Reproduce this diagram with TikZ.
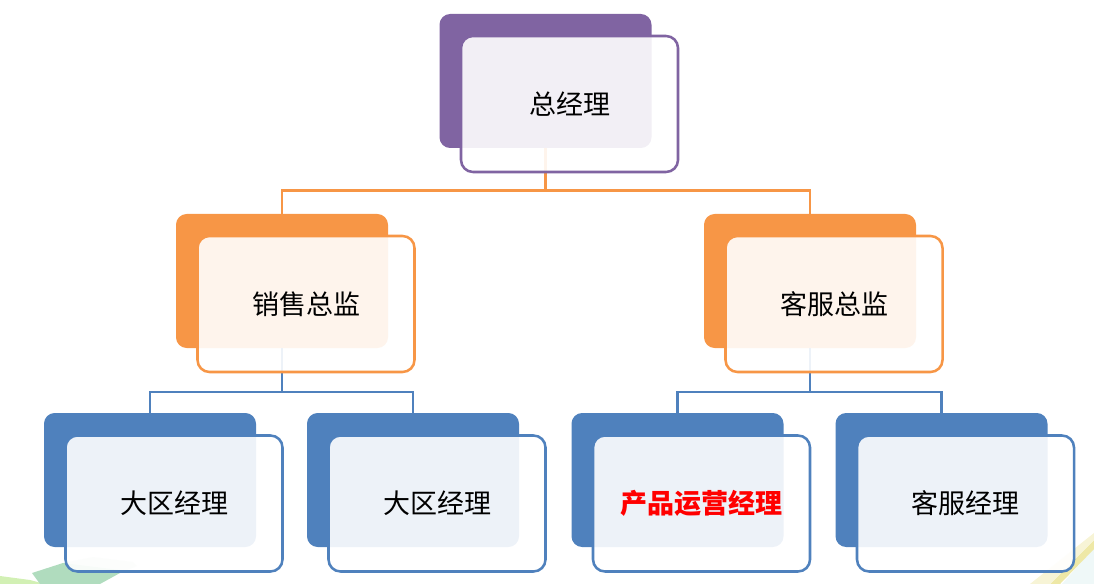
\documentclass[tikz,border=0pt]{standalone}
\usepackage{fontspec}
\newfontfamily\cjk{Noto Sans CJK SC}
\usetikzlibrary{calc}
\definecolor{cpurple}{HTML}{8064A2}
\definecolor{corange}{HTML}{F79646}
\definecolor{cblue}{HTML}{4F81BD}
\definecolor{dgreen}{HTML}{B0DCBE}
\definecolor{lgreen}{HTML}{E4F3E8}
\definecolor{ygreen}{HTML}{D2F0B4}
\definecolor{dyellow}{HTML}{EEE8A6}
\definecolor{lyellow}{HTML}{F7F4D6}
\definecolor{lcyan}{HTML}{EFF8F8}
\tikzset{
  backbox/.style={rectangle, rounded corners=8pt, minimum width=159pt, minimum height=100.5pt, fill=#1, draw=none, inner sep=0pt},
  frontbox/.style={rectangle, rounded corners=9pt, minimum width=162.75pt, minimum height=102pt, fill=white, fill opacity=0.9, text opacity=1, draw=#1, line width=1.9pt, inner sep=0pt, font=\cjk\fontsize{20.25}{24}\selectfont},
  conn/.style={draw=#1, line width=1.9pt},
}
\begin{document}
\begin{tikzpicture}[x=0.75pt,y=-0.75pt]
\useasboundingbox (0,0) rectangle (1094,584);
% background decorations
\fill[ygreen] (0,576) -- (30,580) -- (45,584) -- (0,584) -- cycle;
\fill[lgreen] (63,563) -- (93,557) -- (133,562) -- (137,566) -- (120,573) -- (60,570) -- cycle;
\fill[dgreen] (32,573) -- (63,563) -- (120,570) -- (120,573) -- (100,584) -- (40,584) -- cycle;
\fill[lcyan] (1094,548) -- (1094,584) -- (1062,584) -- cycle;
\fill[dyellow] (1094,540) -- (1094,549) -- (1060,584) -- (1050,584) -- cycle;
\fill[lyellow] (1094,533) -- (1094,540) -- (1050,584) -- (1030,584) -- cycle;
% back boxes
\node[backbox=cpurple] (topb) at (545.5,81) {};
\node[backbox=corange] (salesb) at (282,281) {};
\node[backbox=corange] (csb) at (810,281) {};
\node[backbox=cblue] (b1b) at (150,480) {};
\node[backbox=cblue] (b2b) at (413,480) {};
\node[backbox=cblue] (b3b) at (677.5,480) {};
\node[backbox=cblue] (b4b) at (941.5,480) {};
% connectors
\coordinate (j1) at (545.5,190.5);
\coordinate (j2) at (282,392);
\coordinate (j3) at (810,392);
\draw[conn=corange] (topb.south) -- (j1) -| (salesb.north);
\draw[conn=corange] (j1) -| (csb.north);
\draw[conn=cblue] (salesb.south) -- (j2) -| (b1b.north);
\draw[conn=cblue] (j2) -| (b2b.north);
\draw[conn=cblue] (csb.south) -- (j3) -| (b3b.north);
\draw[conn=cblue] (j3) -| (b4b.north);
% front boxes
\node[frontbox=cpurple] (top) at (569.5,104) {总经理};
\node[frontbox=corange] (sales) at (306,304) {销售总监};
\node[frontbox=corange] (cs) at (834,304) {客服总监};
\node[frontbox=cblue] (b1) at (174,503.5) {大区经理};
\node[frontbox=cblue] (b2) at (437,503.5) {大区经理};
\node[frontbox=cblue, text=red, font=\cjk\bfseries\fontsize{20.25}{24}\selectfont] (b3) at (701.5,503.5) {产品运营经理};
\node[frontbox=cblue] (b4) at (965.5,503.5) {客服经理};
\end{tikzpicture}
\end{document}
